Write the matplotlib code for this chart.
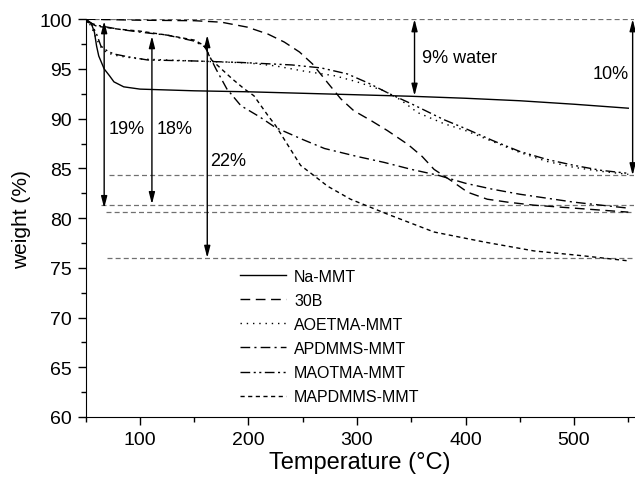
import matplotlib
matplotlib.use('Agg')
import matplotlib.pyplot as plt
from matplotlib.ticker import MultipleLocator

plt.rcParams['font.family'] = ['Liberation Sans', 'DejaVu Sans']

# TGA curves, temperature (°C) vs. residual weight (%)
na_T = [50, 55, 58, 60, 62, 67, 72, 76, 85, 100, 150, 200, 250, 300, 350, 400, 450, 500, 550]
na_W = [100, 99.6, 98.7, 97.3, 96.3, 95.0, 94.3, 93.7, 93.2, 92.97, 92.8, 92.7, 92.55, 92.4, 92.25, 92.05, 91.8, 91.45, 91.05]

b30_T = [50, 100, 150, 175, 199, 218, 233, 247, 259, 273, 285, 297, 313, 328, 347, 360, 371, 387, 402, 420, 439, 463, 500, 550]
b30_W = [100, 99.9, 99.85, 99.7, 99.2, 98.5, 97.7, 96.7, 95.5, 93.6, 92.0, 90.8, 89.8, 88.8, 87.4, 86.2, 84.9, 83.75, 82.6, 81.9, 81.6, 81.3, 81.0, 80.6]

aoe_T = [50, 55, 60, 65, 70, 80, 100, 150, 200, 225, 250, 280, 300, 325, 340, 356, 380, 400, 425, 450, 475, 500, 525, 550]
aoe_W = [100, 99.3, 98.0, 97.0, 96.6, 96.3, 96.0, 95.8, 95.6, 95.3, 94.8, 94.3, 93.7, 92.8, 91.9, 90.6, 89.5, 88.8, 87.7, 86.6, 85.7, 85.1, 84.7, 84.4]

apd_T = [50, 60, 80, 100, 125, 150, 160, 170, 180, 193, 210, 225, 250, 270, 300, 325, 350, 375, 400, 425, 450, 475, 500, 525, 550]
apd_W = [99.8, 99.4, 99.0, 98.7, 98.4, 97.8, 97.2, 95.0, 93.0, 91.3, 90.2, 89.1, 87.9, 87.0, 86.2, 85.6, 84.9, 84.3, 83.5, 82.9, 82.4, 82.0, 81.6, 81.3, 81.0]

mao_T = [50, 55, 60, 64, 70, 76, 90, 107, 150, 193, 240, 267, 291, 310, 330, 350, 380, 400, 425, 450, 475, 500, 525, 550]
mao_W = [100, 99.6, 98.5, 97.3, 96.8, 96.5, 96.2, 95.9, 95.8, 95.65, 95.4, 95.1, 94.5, 93.6, 92.5, 91.5, 89.9, 89.0, 87.8, 86.7, 85.9, 85.3, 84.8, 84.5]

map_T = [50, 60, 80, 100, 125, 150, 160, 165, 185, 196, 205, 218, 225, 248, 260, 273, 294, 328, 371, 417, 463, 509, 550]
map_W = [99.8, 99.3, 99.0, 98.8, 98.4, 97.9, 97.3, 96.0, 94.0, 93.0, 92.3, 90.3, 89.3, 85.3, 84.3, 83.2, 81.9, 80.4, 78.6, 77.6, 76.7, 76.2, 75.7]

# horizontal guide levels (weight %, start temperature)
guide_W = [100, 84.3, 81.3, 80.6, 76.0]
guide_T0 = [50, 71, 64, 69, 70]

fig = plt.figure(figsize=(6.35, 4.81), dpi=100)
ax = fig.add_axes([0.135, 0.131, 0.863, 0.827])

for w, t0 in zip(guide_W, guide_T0):
    ax.plot([t0, 555], [w, w], color='#707070', lw=0.9, dashes=(4, 2.5))

ax.plot(na_T, na_W, color='black', lw=1.0, label='Na-MMT')
ax.plot(b30_T, b30_W, color='black', lw=1.0, dashes=(7, 4), label='30B')
ax.plot(aoe_T, aoe_W, color='black', lw=1.0, dashes=(1, 3.5), label='AOETMA-MMT')
ax.plot(apd_T, apd_W, color='black', lw=1.0, dashes=(7, 3, 1.5, 3), label='APDMMS-MMT')
ax.plot(mao_T, mao_W, color='black', lw=1.0, dashes=(7, 2.5, 1.5, 2.5, 1.5, 2.5), label='MAOTMA-MMT')
ax.plot(map_T, map_W, color='black', lw=1.0, dashes=(3, 2.5), label='MAPDMMS-MMT')

# weight-loss arrows
arrow = dict(arrowstyle='<|-|>,head_length=0.7,head_width=0.18', color='black', lw=1.0,
             shrinkA=0, shrinkB=0)
ax.annotate('', xy=(67, 81.0), xytext=(67, 99.8), arrowprops=arrow)
ax.annotate('', xy=(111, 81.4), xytext=(111, 98.3), arrowprops=arrow)
ax.annotate('', xy=(162, 76.0), xytext=(162, 98.4), arrowprops=arrow)
ax.annotate('', xy=(353, 92.3), xytext=(353, 100), arrowprops=arrow)
ax.annotate('', xy=(554, 84.3), xytext=(554, 100), arrowprops=arrow)

ax.text(71, 89.0, '19%', fontsize=13, va='center')
ax.text(115, 89.0, '18%', fontsize=13, va='center')
ax.text(165, 85.8, '22%', fontsize=13, va='center')
ax.text(360, 96.1, '9% water', fontsize=13, va='center')
ax.text(550, 94.5, '10%', fontsize=13, va='center', ha='right')

ax.set_xlim(50, 555)
ax.set_ylim(60, 100)
ax.xaxis.set_major_locator(MultipleLocator(100))
ax.xaxis.set_minor_locator(MultipleLocator(50))
ax.yaxis.set_major_locator(MultipleLocator(5))
ax.yaxis.set_minor_locator(MultipleLocator(2.5))
ax.tick_params(which='major', length=6, width=1, labelsize=14, pad=4)
ax.tick_params(which='minor', length=3.5, width=1)
ax.spines['top'].set_visible(False)
ax.spines['right'].set_visible(False)

ax.set_xlabel('Temperature (°C)', fontsize=17, labelpad=2)
ax.set_ylabel('weight (%)', fontsize=15, labelpad=6)

ax.legend(loc='upper left', bbox_to_anchor=(0.281, 0.372), frameon=False, fontsize=11.5,
          handlelength=2.9, handletextpad=0.5, labelspacing=0.565,
          borderpad=0, borderaxespad=0)

fig.savefig('out.png', dpi=100)
